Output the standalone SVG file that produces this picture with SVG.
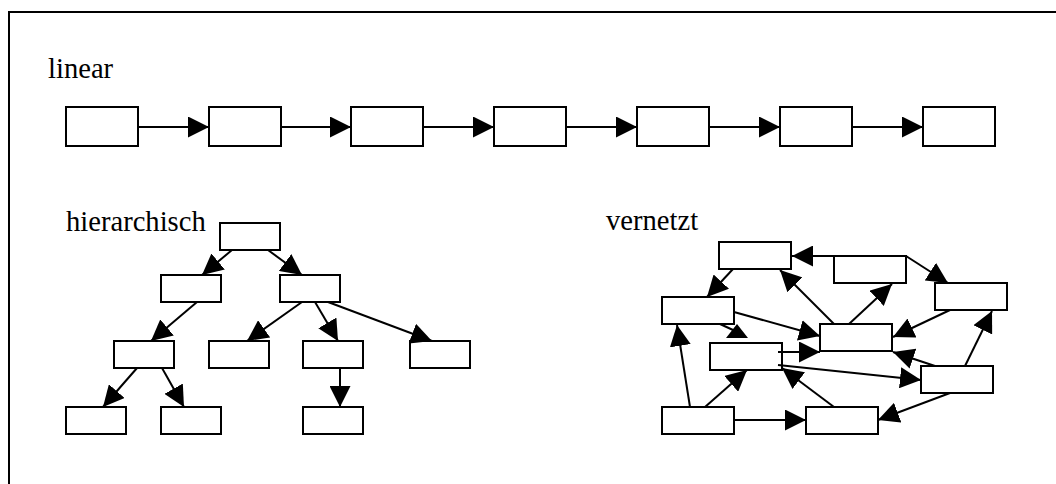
<svg xmlns="http://www.w3.org/2000/svg" width="1056" height="484" viewBox="0 0 1056 484">
<style>
.frame{fill:none;stroke:#000;stroke-width:2}
.box{fill:#fff;stroke:#000;stroke-width:2}
.c{stroke:#000;stroke-width:2;fill:none;marker-end:url(#ah)}
.plain{stroke:#000;stroke-width:2;fill:none}
.lbl{font-family:"Liberation Serif","Times New Roman",serif;font-size:28.6px;fill:#000}
</style>
<defs>
<marker id="ah" markerUnits="userSpaceOnUse" markerWidth="21" markerHeight="21" refX="21" refY="10.5" orient="auto" viewBox="0 0 21 21">
<path d="M0,0 L21,10.5 L0,21 z" fill="#000"/>
</marker>
</defs>
<rect class="frame" x="9" y="12" width="1100" height="500"/>
<g id="labels">
<text class="lbl" x="48" y="78">linear</text>
<text class="lbl" x="66" y="231">hierarchisch</text>
<text class="lbl" x="606" y="230">vernetzt</text>
</g>
<g id="linear-nodes">
<g id="lin1"><rect class="box" x="66" y="107" width="72" height="39"/></g>
<g id="lin2"><rect class="box" x="209" y="107" width="72" height="39"/></g>
<g id="lin3"><rect class="box" x="351" y="107" width="72" height="39"/></g>
<g id="lin4"><rect class="box" x="494" y="107" width="72" height="39"/></g>
<g id="lin5"><rect class="box" x="637" y="107" width="72" height="39"/></g>
<g id="lin6"><rect class="box" x="780" y="107" width="72" height="39"/></g>
<g id="lin7"><rect class="box" x="923" y="107" width="72" height="39"/></g>
</g>
<g id="hier-nodes">
<g id="h-root"><rect class="box" x="220" y="223" width="60" height="27"/></g>
<g id="h-2a"><rect class="box" x="161" y="275" width="60" height="27"/></g>
<g id="h-2b"><rect class="box" x="280" y="275" width="60" height="27"/></g>
<g id="h-3a"><rect class="box" x="114" y="341" width="60" height="27"/></g>
<g id="h-3b"><rect class="box" x="209" y="341" width="60" height="27"/></g>
<g id="h-3c"><rect class="box" x="303" y="341" width="60" height="27"/></g>
<g id="h-3d"><rect class="box" x="410" y="341" width="60" height="27"/></g>
<g id="h-4a"><rect class="box" x="66" y="407" width="60" height="27"/></g>
<g id="h-4b"><rect class="box" x="161" y="407" width="60" height="27"/></g>
<g id="h-4c"><rect class="box" x="303" y="407" width="60" height="27"/></g>
</g>
<g id="net-nodes">
<g id="nA"><rect class="box" x="719" y="242" width="72" height="27"/></g>
<g id="nB"><rect class="box" x="662" y="297" width="72" height="27"/></g>
<g id="nC"><rect class="box" x="710" y="343" width="72" height="27"/></g>
<g id="nD"><rect class="box" x="662" y="407" width="72" height="27"/></g>
<g id="nE"><rect class="box" x="834" y="256" width="72" height="27"/></g>
<g id="nF"><rect class="box" x="935" y="283" width="72" height="27"/></g>
<g id="nG"><rect class="box" x="820" y="324" width="72" height="27"/></g>
<g id="nH"><rect class="box" x="921" y="366" width="72" height="27"/></g>
<g id="nI"><rect class="box" x="806" y="407" width="72" height="27"/></g>
</g>
<g id="connectors">
<line class="c" x1="138" y1="127" x2="209" y2="127"/>
<line class="c" x1="281" y1="127" x2="351" y2="127"/>
<line class="c" x1="423" y1="127" x2="494" y2="127"/>
<line class="c" x1="566" y1="127" x2="637" y2="127"/>
<line class="c" x1="709" y1="127" x2="780" y2="127"/>
<line class="c" x1="852" y1="127" x2="923" y2="127"/>
<line class="c" x1="232" y1="250" x2="202" y2="275"/>
<line class="c" x1="268" y1="250" x2="302" y2="275"/>
<line class="c" x1="197" y1="302" x2="151" y2="341"/>
<line class="c" x1="302" y1="302" x2="247" y2="341"/>
<line class="c" x1="315" y1="302" x2="338" y2="341"/>
<line class="c" x1="328" y1="302" x2="432" y2="341"/>
<line class="c" x1="137" y1="368" x2="103" y2="407"/>
<line class="c" x1="162" y1="368" x2="184" y2="407"/>
<line class="c" x1="340" y1="368" x2="340" y2="407"/>
<line class="c" x1="834" y1="256" x2="792" y2="256"/>
<line class="c" x1="906" y1="256" x2="948" y2="283"/>
<line class="c" x1="834" y1="324" x2="780" y2="270"/>
<line class="c" x1="849" y1="324" x2="892" y2="284"/>
<line class="c" x1="950" y1="310" x2="893" y2="337"/>
<line class="c" x1="935" y1="366" x2="893" y2="352"/>
<line class="c" x1="965" y1="366" x2="992" y2="311"/>
<line class="c" x1="950" y1="393" x2="878" y2="420"/>
<line class="c" x1="778" y1="365" x2="921" y2="380"/>
<line class="c" x1="834" y1="407" x2="782" y2="368"/>
<line class="c" x1="778" y1="352" x2="820" y2="352"/>
<line class="c" x1="734" y1="312" x2="820" y2="336"/>
<line class="plain" x1="720" y1="324" x2="733" y2="330"/>
<polygon points="737,324 726,338 748,338" fill="#000"/>
<line class="c" x1="733" y1="269" x2="707" y2="297"/>
<line class="c" x1="690" y1="407" x2="677" y2="325"/>
<line class="c" x1="705" y1="407" x2="747" y2="370"/>
<line class="c" x1="734" y1="420" x2="806" y2="420"/>
</g>
</svg>
